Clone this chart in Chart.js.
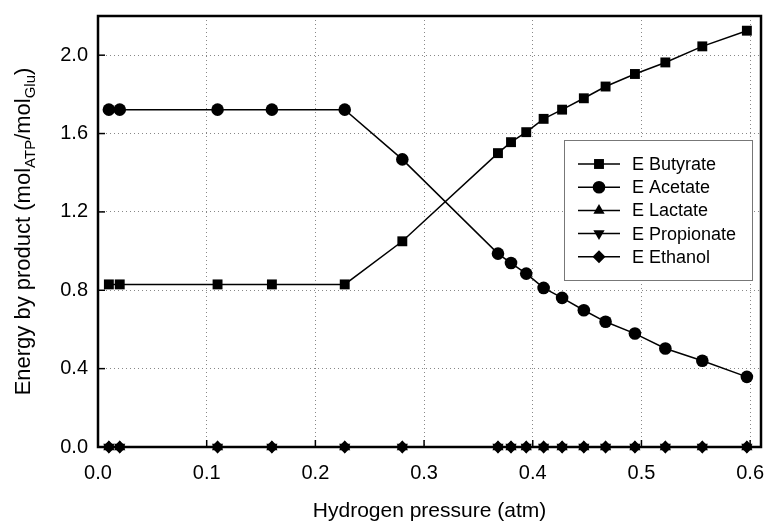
<!DOCTYPE html>
<html>
<head>
<meta charset="utf-8">
<script src="https://cdn.jsdelivr.net/npm/chart.js@4"></script>
<style>
  html, body { margin: 0; padding: 0; background: #fff; }
</style>
</head>
<body>
<canvas id="myChart" width="768" height="524"></canvas>
<script>
// hydrogen pressure (atm)
const pressure = [0.01, 0.02, 0.11, 0.16, 0.227, 0.28, 0.368, 0.38, 0.394, 0.41, 0.427, 0.447, 0.467, 0.494, 0.522, 0.556, 0.597];
const butyrate = [0.83, 0.83, 0.83, 0.83, 0.83, 1.05, 1.50, 1.556, 1.607, 1.675, 1.722, 1.78, 1.84, 1.904, 1.963, 2.045, 2.125];
const acetate = [1.722, 1.722, 1.722, 1.722, 1.722, 1.468, 0.987, 0.939, 0.885, 0.812, 0.761, 0.698, 0.639, 0.579, 0.503, 0.44, 0.358];
const lactate = [0, 0, 0, 0, 0, 0, 0, 0, 0, 0, 0, 0, 0, 0, 0, 0, 0];
const propionate = [0, 0, 0, 0, 0, 0, 0, 0, 0, 0, 0, 0, 0, 0, 0, 0, 0];
const ethanol = [0, 0, 0, 0, 0, 0, 0, 0, 0, 0, 0, 0, 0, 0, 0, 0, 0];

const seriesNames = ['E Butyrate', 'E Acetate', 'E Lactate', 'E Propionate', 'E Ethanol'];
const seriesMarkers = ['rect', 'circle', 'triangle', 'triangle', 'rectRot'];
const seriesRotation = [0, 0, 0, 180, 0];
const seriesRadius = [7, 6.3, 6.5, 6.5, 6.5];

const xTickValues = [0, 0.1, 0.2, 0.3, 0.4, 0.5, 0.6];
const yTickValues = [0, 0.4, 0.8, 1.2, 1.6, 2.0];

const FONT = 'Liberation Sans, Arial, sans-serif';

const allSeries = [butyrate, acetate, lactate, propionate, ethanol];
const datasets = allSeries.map((vals, i) => ({
    label: seriesNames[i],
    data: vals.map((v, j) => ({x: pressure[j], y: v})),
    borderColor: '#000',
    backgroundColor: '#000',
    borderWidth: 1.5,
    pointStyle: seriesMarkers[i],
    pointRotation: seriesRotation[i],
    pointRadius: seriesRadius[i],
    pointBorderWidth: 0,
    pointBackgroundColor: '#000',
    clip: false,
    tension: 0
}));

// frame, inner tick marks, legend box and the y title with subscripts
const decorations = {
    id: 'decorations',
    beforeDatasetsDraw(chart) {
        const {ctx, chartArea: a, scales: {x, y}} = chart;
        ctx.save();
        ctx.strokeStyle = '#000';
        ctx.lineWidth = 1.5;
        xTickValues.forEach(v => {
            const px = x.getPixelForValue(v);
            ctx.beginPath();
            ctx.moveTo(px, a.bottom);
            ctx.lineTo(px, a.bottom - 7);
            ctx.stroke();
        });
        yTickValues.forEach(v => {
            const py = y.getPixelForValue(v);
            ctx.beginPath();
            ctx.moveTo(a.left, py);
            ctx.lineTo(a.left + 7, py);
            ctx.stroke();
        });
        ctx.lineWidth = 2.5;
        ctx.strokeRect(a.left, a.top, a.right - a.left, a.bottom - a.top);
        ctx.restore();
    },
    afterDatasetsDraw(chart) {
        const {ctx} = chart;
        ctx.save();
        // legend box
        const bx = 564, by = 140, bw = 188, bh = 140;
        ctx.fillStyle = '#fff';
        ctx.fillRect(bx, by, bw, bh);
        ctx.strokeStyle = '#777';
        ctx.lineWidth = 1;
        ctx.strokeRect(bx + 0.5, by + 0.5, bw, bh);
        ctx.font = '18px ' + FONT;
        ctx.textBaseline = 'middle';
        ctx.textAlign = 'left';
        seriesNames.forEach((name, i) => {
            const ly = 164 + i * 23.2;
            ctx.strokeStyle = '#000';
            ctx.lineWidth = 1.5;
            ctx.beginPath();
            ctx.moveTo(578, ly);
            ctx.lineTo(620, ly);
            ctx.stroke();
            ctx.fillStyle = '#000';
            Chart.helpers.drawPoint(ctx, {
                pointStyle: seriesMarkers[i],
                rotation: seriesRotation[i],
                radius: seriesRadius[i],
                borderWidth: 0
            }, 599, ly);
            ctx.fillText(name, 632, ly + 1);
        });
        ctx.restore();
    },
    afterDraw(chart) {
        const {ctx, chartArea: a} = chart;
        const parts = [['Energy by product (mol', false], ['ATP', true], ['/mol', false], ['Glu', true], [')', false]];
        const big = '22px ' + FONT, small = '15px ' + FONT;
        ctx.save();
        let total = 0;
        parts.forEach(p => { ctx.font = p[1] ? small : big; total += ctx.measureText(p[0]).width; });
        ctx.translate(23, (a.top + a.bottom) / 2);
        ctx.rotate(-Math.PI / 2);
        ctx.fillStyle = '#000';
        ctx.textBaseline = 'alphabetic';
        ctx.textAlign = 'left';
        let cx = -total / 2;
        parts.forEach(p => {
            ctx.font = p[1] ? small : big;
            ctx.fillText(p[0], cx, p[1] ? 12 : 7);
            cx += ctx.measureText(p[0]).width;
        });
        ctx.restore();
    }
};

var ctx = document.getElementById('myChart').getContext('2d');
new Chart(ctx, {
    type: 'line',
    data: { datasets: datasets },
    options: {
        responsive: false,
        animation: false,
        layout: { autoPadding: false, padding: { left: 0, right: 7, top: 16, bottom: 0 } },
        plugins: {
            legend: { display: false },
            tooltip: { enabled: false }
        },
        scales: {
            x: {
                type: 'linear',
                min: 0,
                max: 0.61,
                afterBuildTicks: s => { s.ticks = xTickValues.map(v => ({value: v})); },
                afterFit: s => { s.height = 77; },
                ticks: {
                    color: '#000',
                    font: { family: FONT, size: 20 },
                    padding: 0,
                    callback: v => v.toFixed(1)
                },
                grid: { color: '#888', drawTicks: true, tickLength: 14, tickColor: 'rgba(0,0,0,0)' },
                border: { display: false, dash: [1, 3] },
                title: {
                    display: true,
                    text: 'Hydrogen pressure (atm)',
                    color: '#000',
                    font: { family: FONT, size: 21 },
                    padding: { top: 4, bottom: 0 }
                }
            },
            y: {
                type: 'linear',
                min: 0,
                max: 2.2,
                afterBuildTicks: s => { s.ticks = yTickValues.map(v => ({value: v})); },
                afterFit: s => { s.width = 98; },
                ticks: {
                    color: '#000',
                    font: { family: FONT, size: 20 },
                    padding: 0,
                    callback: v => v.toFixed(1)
                },
                grid: { color: '#888', drawTicks: true, tickLength: 10, tickColor: 'rgba(0,0,0,0)' },
                border: { display: false, dash: [1, 3] }
            }
        }
    },
    plugins: [decorations]
});
</script>
</body>
</html>
